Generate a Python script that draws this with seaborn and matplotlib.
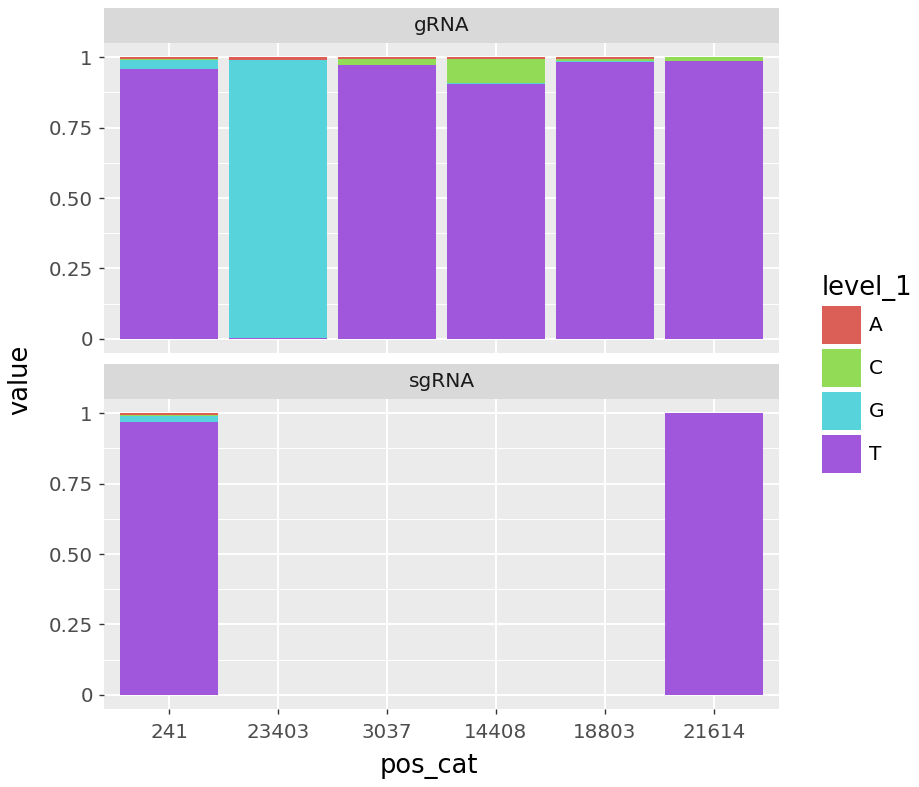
import numpy as np
import pandas as pd
import matplotlib
matplotlib.use("Agg")
import matplotlib.pyplot as plt
from matplotlib.patches import Patch
from matplotlib.ticker import FixedLocator
import seaborn as sns

# ---------------- data ----------------
categories = ["241", "23403", "3037", "14408", "18803", "21614"]
levels = ["A", "C", "G", "T"]
panels = ["gRNA", "sgRNA"]

grna_A = [0.007, 0.010, 0.008, 0.008, 0.008, 0.000]
grna_C = [0.002, 0.000, 0.020, 0.085, 0.006, 0.013]
grna_G = [0.034, 0.988, 0.000, 0.003, 0.005, 0.000]
grna_T = [0.957, 0.002, 0.972, 0.904, 0.981, 0.987]

sgrna_cats = ["241", "21614"]
sgrna_A = [0.008, 0.000]
sgrna_C = [0.003, 0.000]
sgrna_G = [0.020, 0.000]
sgrna_T = [0.969, 1.000]

palette = {"A": "#db5f57", "C": "#91db57", "G": "#57d3db", "T": "#a157db"}

ytick_vals = [0, 0.25, 0.5, 0.75, 1]
ytick_labels = ["0", "0.25", "0.50", "0.75", "1"]

rows = []
for cat, a, c, g, t in zip(categories, grna_A, grna_C, grna_G, grna_T):
    for lev, v in zip(levels, [a, c, g, t]):
        rows.append(("gRNA", cat, lev, v))
for cat, a, c, g, t in zip(sgrna_cats, sgrna_A, sgrna_C, sgrna_G, sgrna_T):
    for lev, v in zip(levels, [a, c, g, t]):
        rows.append(("sgRNA", cat, lev, v))
df = pd.DataFrame(rows, columns=["panel", "pos_cat", "level_1", "value"])

# stack order: T at bottom, A on top -> cumulative from T upward
stack_order = ["T", "G", "C", "A"]
df["rank"] = df["level_1"].map({l: i for i, l in enumerate(stack_order)})
df = df.sort_values(["panel", "pos_cat", "rank"])
df["cum"] = df.groupby(["panel", "pos_cat"])["value"].cumsum()

# ---------------- figure ----------------
W, H = 920, 787
fig = plt.figure(figsize=(W / 100, H / 100), dpi=100)

def fx(px):
    return px / W

def fy(px):
    return 1 - px / H

ax_left, ax_right = 104, 779
layout = {"gRNA": (8, 43, 353), "sgRNA": (364, 399, 709)}

tick_col = "#4D4D4D"
axes = {}
for p in panels:
    s_top, a_top, a_bot = layout[p]
    strip = fig.add_axes([fx(ax_left), fy(a_top), fx(ax_right - ax_left), (a_top - s_top) / H])
    strip.set_facecolor("#D9D9D9")
    strip.set_xticks([]); strip.set_yticks([])
    for sp in strip.spines.values():
        sp.set_visible(False)
    strip.text(0.5, 0.5, p, ha="center", va="center", fontsize=14.5, color="#1A1A1A",
               transform=strip.transAxes)

    ax = fig.add_axes([fx(ax_left), fy(a_bot), fx(ax_right - ax_left), (a_bot - a_top) / H])
    axes[p] = ax
    ax.set_facecolor("#EBEBEB")
    ax.set_axisbelow(True)
    sub = df[df["panel"] == p]
    for lev in levels:  # A (largest cumulative) first, T last
        d = sub[sub["level_1"] == lev]
        sns.barplot(data=d, x="pos_cat", y="cum", order=categories, color=palette[lev],
                    saturation=1, width=0.9, errorbar=None, linewidth=0, ax=ax)
    ax.set_xlim(-0.6, len(categories) - 0.4)
    ax.set_ylim(-0.05, 1.05)
    ax.set_yticks(ytick_vals)
    ax.set_yticklabels(ytick_labels)
    ax.yaxis.set_minor_locator(FixedLocator([0.125, 0.375, 0.625, 0.875]))
    ax.grid(which="major", color="white", linewidth=1.4)
    ax.grid(which="minor", axis="y", color="white", linewidth=0.7)
    ax.tick_params(which="minor", length=0)
    ax.tick_params(which="major", length=3.5, width=1.0, color="#333333",
                   labelsize=14.3, labelcolor=tick_col)
    ax.tick_params(axis="y", pad=4.5)
    ax.tick_params(axis="x", pad=6.5)
    for sp in ax.spines.values():
        sp.set_visible(False)
    ax.set_xlabel("")
    ax.set_ylabel("")

axes["gRNA"].tick_params(axis="x", which="both", length=0, labelbottom=False)

fig.text(fx(429), fy(766), "pos_cat", ha="center", va="center", fontsize=18.5, color="black")
fig.text(fx(20), fy(380), "value", ha="center", va="center", rotation=90, fontsize=18.5,
         color="black")

handles = [Patch(facecolor=palette[l], edgecolor="none", label=l) for l in levels]
leg = fig.legend(handles=handles, title="level_1", loc="upper left",
                 bbox_to_anchor=(fx(822), fy(275)), frameon=False, fontsize=14.5,
                 title_fontsize=18.5, handlelength=1.92, handleheight=2.5,
                 labelspacing=0.26, handletextpad=0.4, borderpad=0, borderaxespad=0,
                 alignment="left")

fig.savefig("out.png", dpi=100)
